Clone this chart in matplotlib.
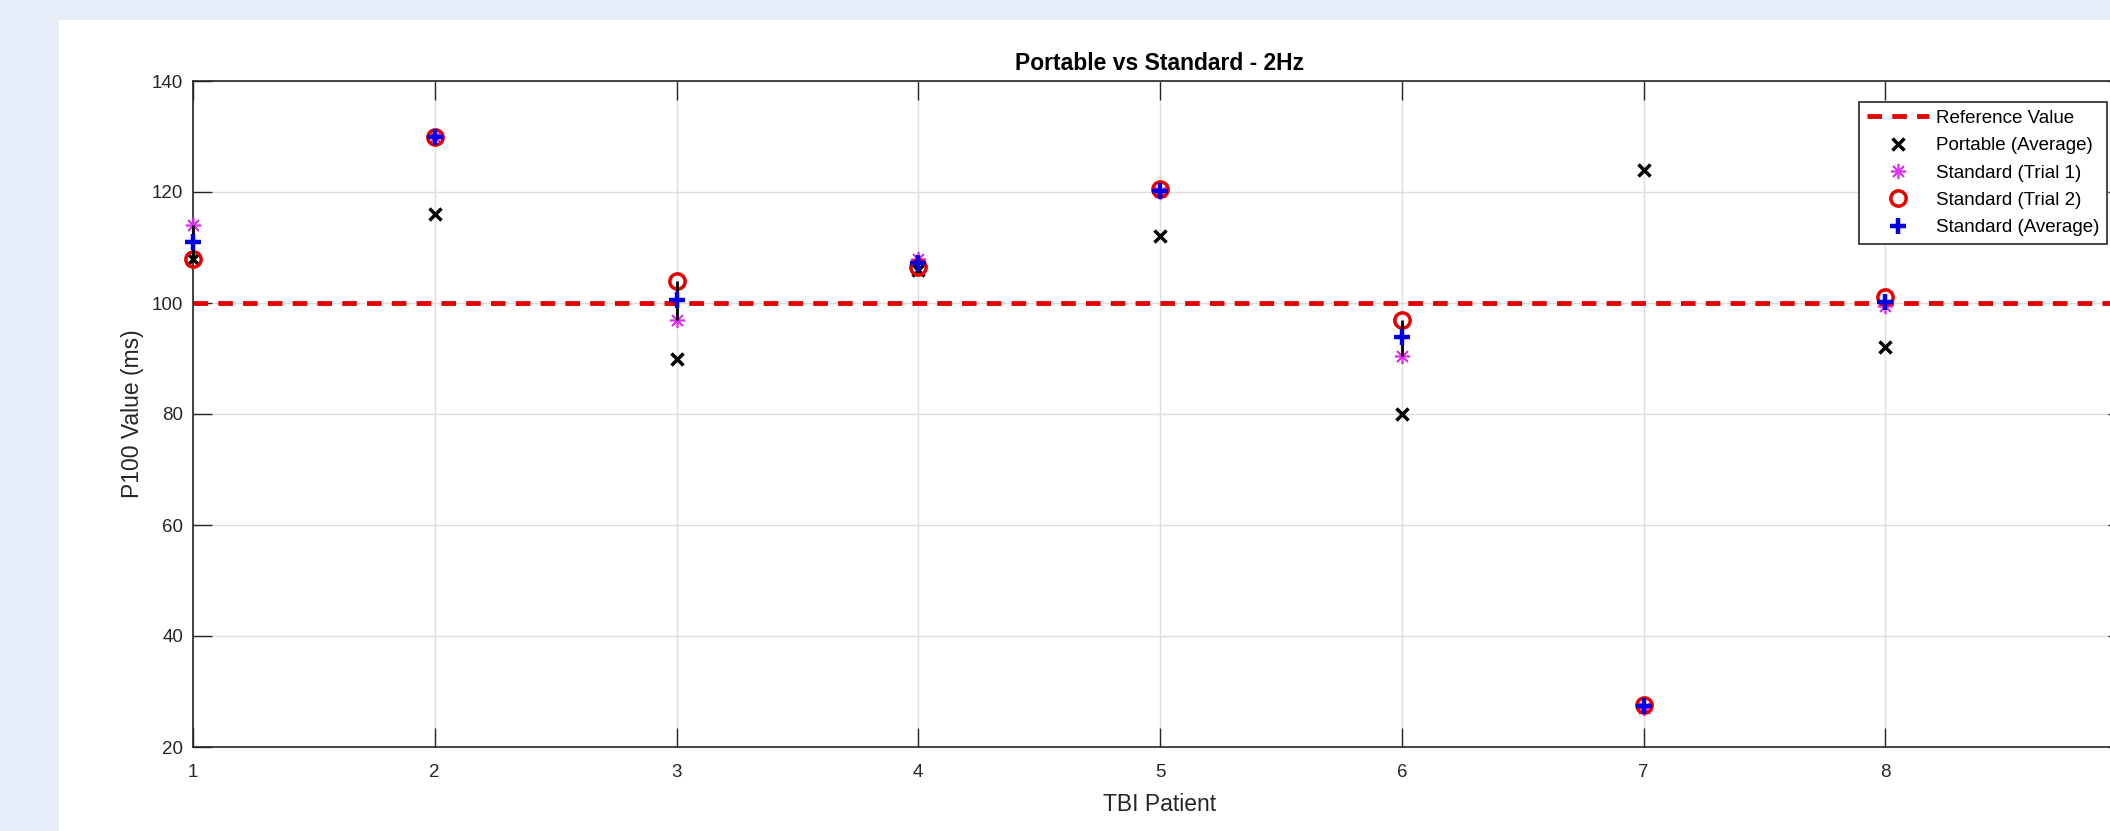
import matplotlib.pyplot as plt
from matplotlib.patches import Rectangle

# Datos
pacientes = [1, 2, 3, 4, 5, 6, 7, 8]
portable_promedio = [108, 116, 90, 106, 112, 80, 124, 92]
estandar_t1 = [114, 130, 97, 108, 120, 90.5, 27, 99.5]
estandar_t2 = [108, 130, 104, 106.5, 120.5, 97, 27.5, 101]
estandar_promedio = [111, 130, 100.5, 107.2, 120.2, 93.8, 27.3, 100.2]
valor_referencia = 100
ticks_x = [1, 2, 3, 4, 5, 6, 7, 8, 9]
etiquetas_x = ['1', '2', '3', '4', '5', '6', '7', '8', '']

plt.rcParams['font.family'] = ['Liberation Sans', 'DejaVu Sans']

fig = plt.figure(figsize=(21.1, 8.31), dpi=100)
fig.patch.set_facecolor('#E6ECF8')
# fondo blanco de la figura (la franja azul queda a la izquierda y arriba)
fondo = Rectangle((59 / 2110, 0), 1, (831 - 20) / 831, transform=fig.transFigure,
                  facecolor='white', edgecolor='none', zorder=-10)
fig.add_artist(fondo)

ax = fig.add_axes([193 / 2110, 84 / 831, 1934 / 2110, 666 / 831])

# Linea de referencia
ax.axhline(valor_referencia, color='#E50000', linestyle='--', linewidth=3.5,
           dashes=(3.0, 2.1), label='Reference Value', zorder=2)

ax.plot(pacientes, portable_promedio, linestyle='none', marker='x',
        color='black', markersize=9, markeredgewidth=2.5,
        label='Portable (Average)', zorder=3, clip_on=False)
ax.plot(pacientes, estandar_t1, linestyle='none', marker=(8, 2, 0),
        color='#E030F0', markersize=11, markeredgewidth=1.2,
        label='Standard (Trial 1)', zorder=3, clip_on=False)
ax.plot(pacientes, estandar_t2, linestyle='none', marker='o',
        markerfacecolor='none', markeredgecolor='#E50000', markersize=11,
        markeredgewidth=2.5, label='Standard (Trial 2)', zorder=3, clip_on=False)

# barras de error del promedio estandar (rango de los dos ensayos)
err_inf = [p - min(a, b) for p, a, b in zip(estandar_promedio, estandar_t1, estandar_t2)]
err_sup = [max(a, b) - p for p, a, b in zip(estandar_promedio, estandar_t1, estandar_t2)]
ax.errorbar(pacientes, estandar_promedio, yerr=[err_inf, err_sup],
            fmt='none', ecolor='black', elinewidth=2, capsize=0, zorder=4,
            clip_on=False)
ax.plot(pacientes, estandar_promedio, linestyle='none', marker='+',
        color='#0000E0', markersize=11, markeredgewidth=3.2,
        label='Standard (Average)', zorder=5, clip_on=False)

ax.set_xlim(1, 9)
ax.set_ylim(20, 140)
ax.set_xticks(ticks_x, labels=etiquetas_x)
ax.set_yticks(range(20, 141, 20))
ax.grid(True, color='#DEDEDE', linewidth=1)
ax.set_axisbelow(True)

for s in ax.spines.values():
    s.set_color('#262626')
    s.set_linewidth(1.2)
ax.tick_params(direction='in', length=13.5, width=1, colors='#262626',
               labelsize=13.5, top=True, right=True)
ax.tick_params(axis='x', pad=12)
ax.tick_params(axis='y', pad=7)

ax.set_title('Portable vs Standard - 2Hz', fontsize=16.5, fontweight='bold', pad=8)
ax.set_xlabel('TBI Patient', fontsize=16.5, color='#262626', labelpad=9)
ax.set_ylabel('P100 Value (ms)', fontsize=16.5, color='#262626', labelpad=5.5)

leg = ax.legend(loc='upper right', bbox_to_anchor=(2107 / 2110, (831 - 102) / 831),
                bbox_transform=fig.transFigure, borderaxespad=0, fontsize=13.5,
                frameon=True, fancybox=False, framealpha=1, edgecolor='#262626',
                handlelength=3.3, handletextpad=0.4, labelspacing=0.55,
                borderpad=0.4)
leg.get_frame().set_linewidth(1.2)

plt.savefig('out.png', dpi=100, facecolor=fig.get_facecolor())
